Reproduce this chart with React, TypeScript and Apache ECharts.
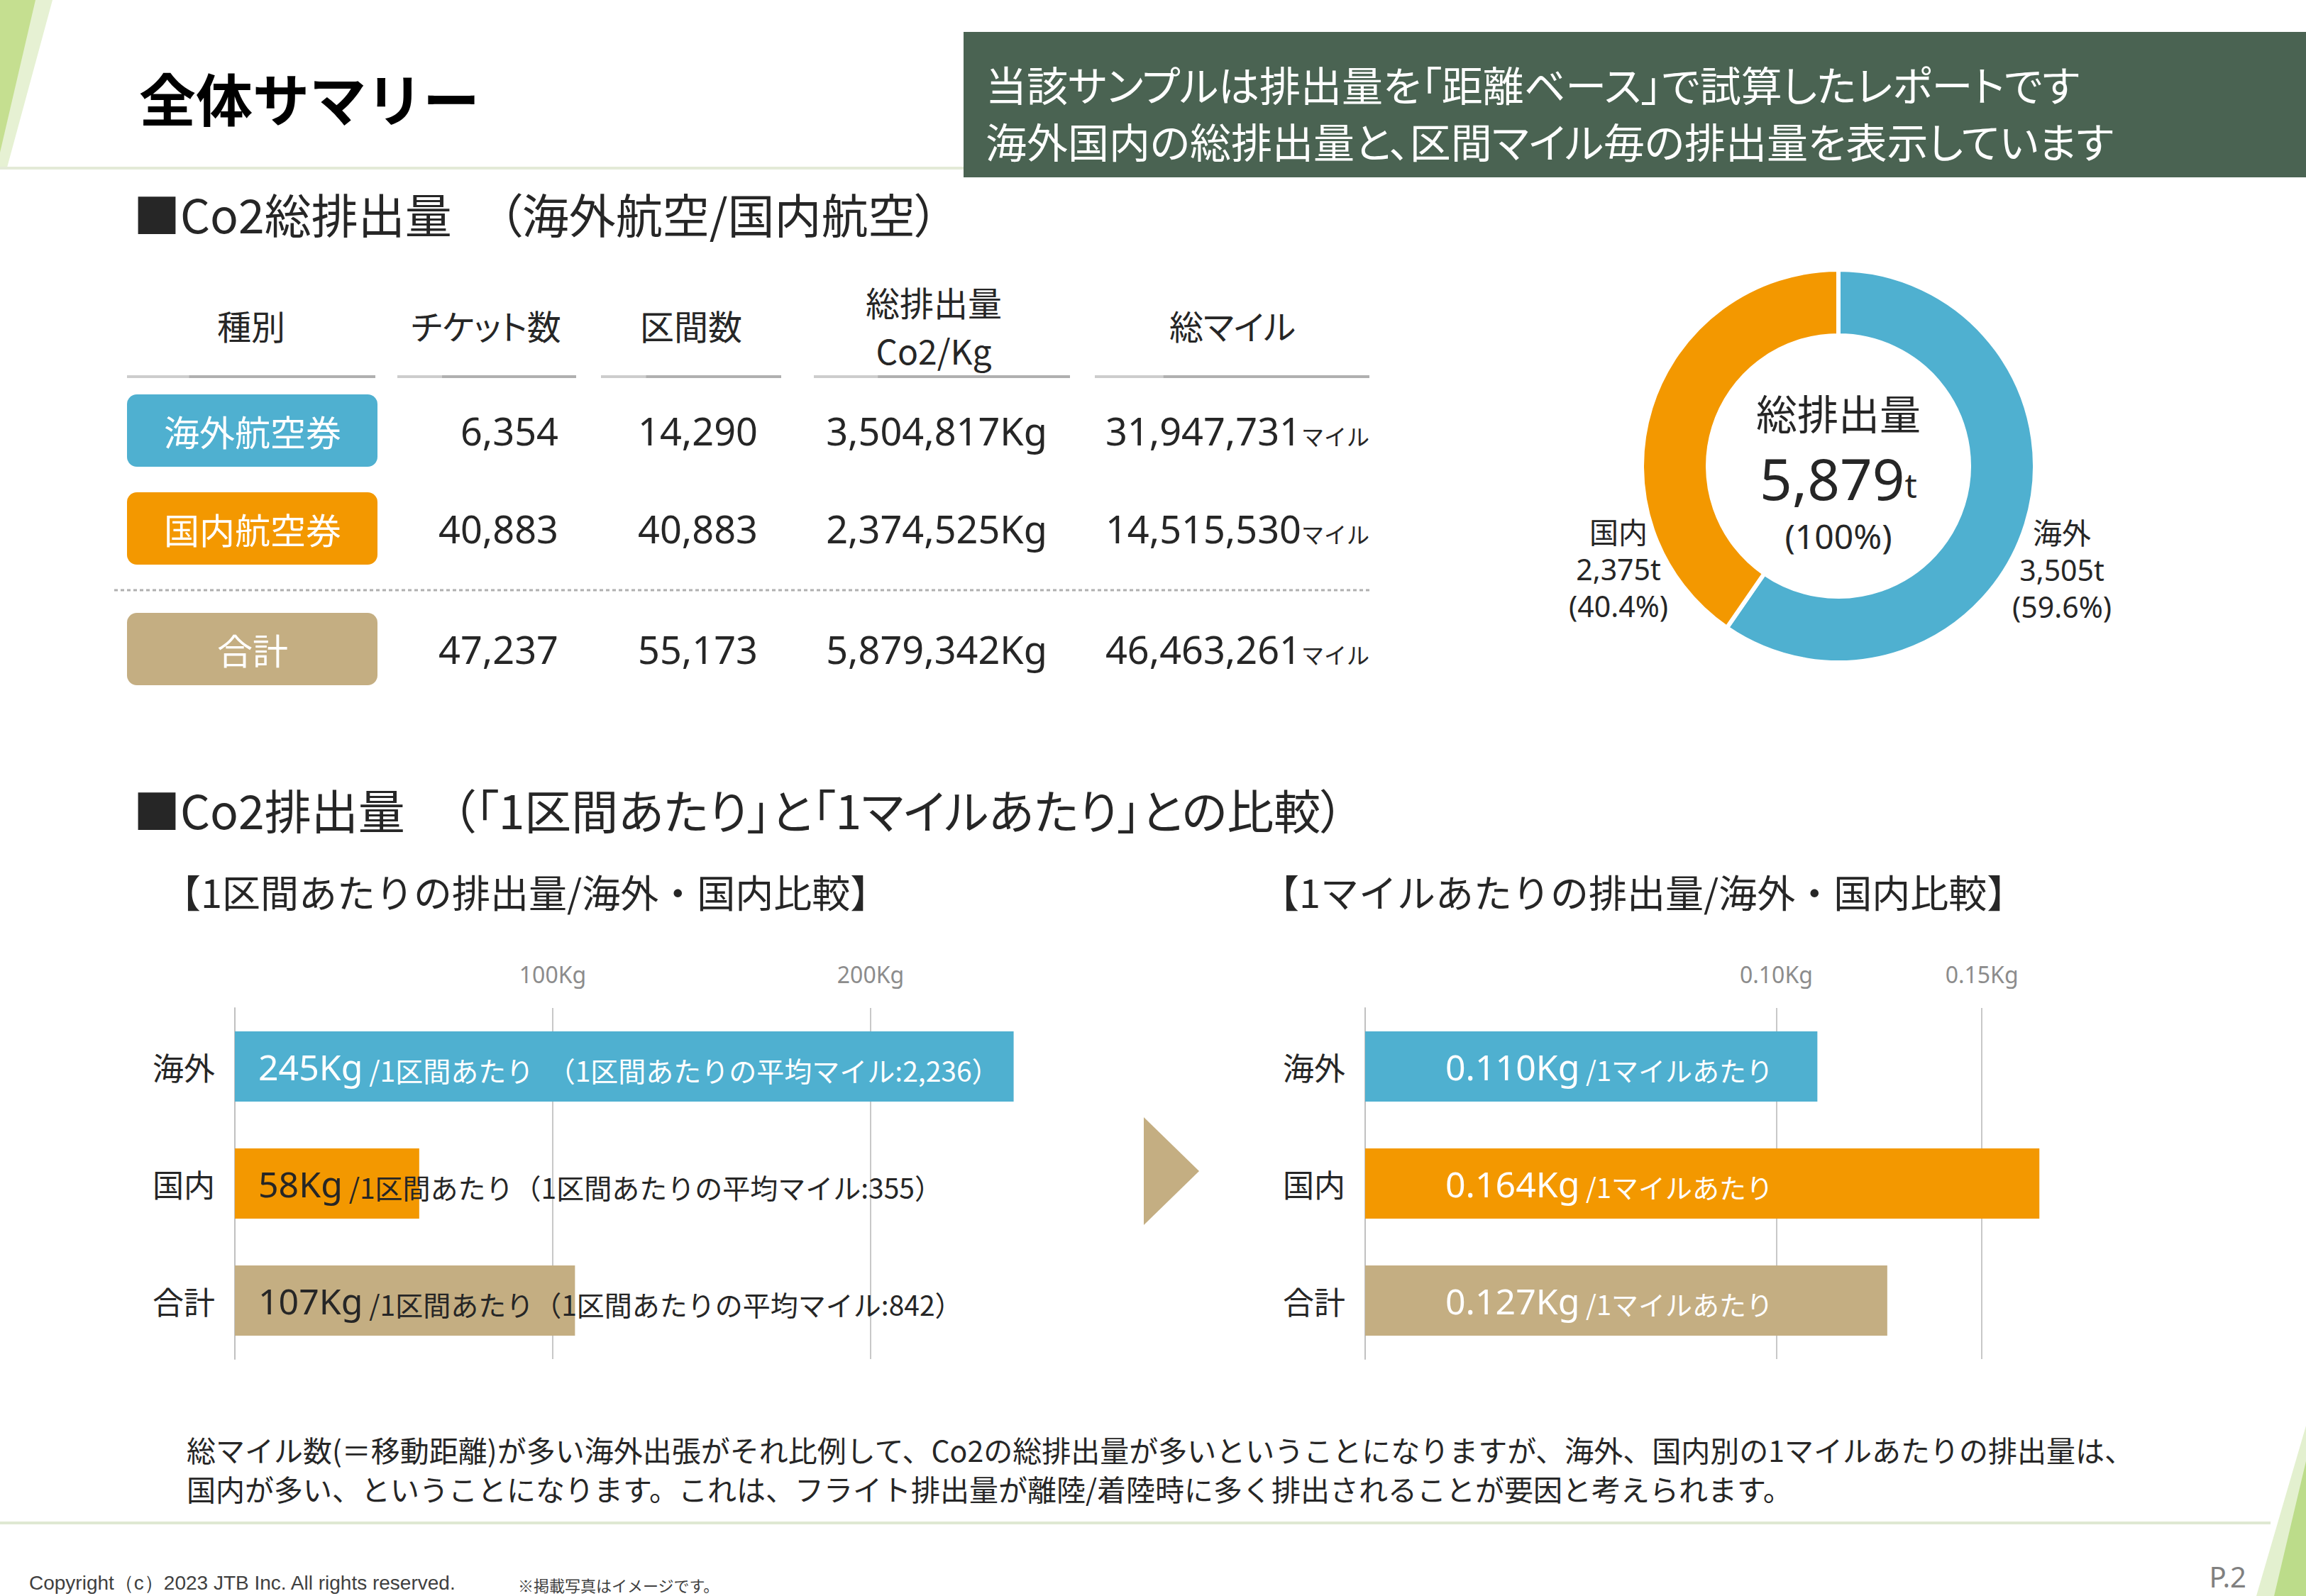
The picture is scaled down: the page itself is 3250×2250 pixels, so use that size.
import React, { useEffect, useRef } from 'react';
import * as echarts from 'echarts';

const W = 3250;
const H = 2250;

// ---------- data ----------
const ticketTypes = ['海外航空券', '国内航空券', '合計'];
const tableHeaders = ['種別', 'チケット数', '区間数', '総排出量\nCo2/Kg', '総マイル'];
const ticketCounts = [6354, 40883, 47237];
const segmentCounts = [14290, 40883, 55173];
const emissionsKg = [3504817, 2374525, 5879342];
const totalMiles = [31947731, 14515530, 46463261];

const donutNames = ['海外', '国内'];
const donutTonnes = [3505, 2375];
const donutTotalTonnes = 5879;

const barCategories = ['海外', '国内', '合計'];
const perSegmentKg = [245, 58, 107];
const avgMilesPerSegment = [2236, 355, 842];
const perMileKg = [0.110, 0.164, 0.127];
const segAxisTicks = [100, 200];
const mileAxisTicks = [0.1, 0.15];

const headerLines = [
  '当該サンプルは排出量を「距離ベース」で試算したレポートです',
  '海外国内の総排出量と、区間マイル毎の排出量を表示しています',
];
const noteLines = [
  '総マイル数(＝移動距離)が多い海外出張がそれ比例して、Co2の総排出量が多いということになりますが、海外、国内別の1マイルあたりの排出量は、',
  '国内が多い、ということになります。これは、フライト排出量が離陸/着陸時に多く排出されることが要因と考えられます。',
];

// ---------- style ----------
const COLORS = ['#4fb0d0', '#f39800', '#c4ae82'];
const DARK = '#262626';
const JP = "'Noto Sans CJK JP', sans-serif";
const NUM = "'Noto Sans', 'Noto Sans CJK JP', sans-serif";
const fmt = (n: number) => n.toLocaleString('en-US');

function txt(x: number, y: number, t: string, size: number, o: any = {}) {
  return {
    type: 'text',
    x,
    y,
    silent: true,
    z: 10,
    style: {
      text: t,
      fontSize: size,
      fontFamily: o.family || JP,
      fontWeight: o.weight || 'normal',
      fill: o.color || DARK,
      align: o.align || 'left',
      verticalAlign: o.valign || 'middle',
      lineHeight: o.lineHeight,
      rich: o.rich,
    },
  };
}

function buildGraphics() {
  const g: any[] = [];
  // decorative stripes
  g.push({ type: 'polygon', silent: true, shape: { points: [[0, 0], [74, 0], [10, 236], [0, 236]] }, style: { fill: '#e6f1d3' } });
  g.push({ type: 'polygon', silent: true, shape: { points: [[0, 0], [50, 0], [0, 215]] }, style: { fill: '#c5df90' } });
  g.push({ type: 'polygon', silent: true, shape: { points: [[3250, 2010], [3250, 2250], [3180, 2250]] }, style: { fill: '#e3f0cf' } });
  g.push({ type: 'polygon', silent: true, shape: { points: [[3250, 2060], [3250, 2250], [3205, 2250]] }, style: { fill: '#bcdc8a' } });
  // title + underline
  g.push({ type: 'line', silent: true, shape: { x1: 0, y1: 237, x2: 1358, y2: 237 }, style: { stroke: '#e3ead7', lineWidth: 4 } });
  g.push(txt(196, 136, '全体サマリー', 80, { weight: 'bold', color: '#000' }));
  // header box
  g.push({ type: 'rect', silent: true, shape: { x: 1358, y: 45, width: 1892, height: 205 }, style: { fill: '#4a6352' } });
  g.push(txt(1389, 158, headerLines.join('\n'), 58, { color: '#fff', lineHeight: 80 }));
  // section titles
  g.push(txt(188, 300, '■Co2総排出量　（海外航空/国内航空）', 66, { color: DARK }));
  g.push(txt(188, 1140, '■Co2排出量　（「1区間あたり」と「1マイルあたり」との比較）', 66, { color: DARK }));

  // table headers
  const headCx = [354, 685, 974, 1316, 1737];
  tableHeaders.forEach((h, i) => {
    g.push(txt(headCx[i], i === 3 ? 459 : 458, h, 48, { align: 'center', lineHeight: 68 }));
  });
  const under = [[179, 529], [560, 812], [847, 1101], [1147, 1508], [1543, 1930]];
  under.forEach(([a, b]) => {
    g.push({ type: 'line', silent: true, shape: { x1: a, y1: 531, x2: b, y2: 531 }, style: { stroke: '#b0b0b0', lineWidth: 4 } });
    g.push({ type: 'line', silent: true, shape: { x1: a, y1: 531, x2: a + (b - a) * 0.25, y2: 531 }, style: { stroke: '#cdcdcd', lineWidth: 4 } });
  });
  // rows
  const rowY = [607, 745, 915];
  const valRight = [787, 1068, 1476, 1930];
  ticketTypes.forEach((t, i) => {
    g.push({ type: 'rect', silent: true, shape: { x: 179, y: rowY[i] - 51, width: 353, height: 102, r: 14 }, style: { fill: COLORS[i] } });
    g.push(txt(356, rowY[i], t, 50, { align: 'center', color: '#fff' }));
    g.push(txt(valRight[0], rowY[i], fmt(ticketCounts[i]), 54, { align: 'right', family: NUM }));
    g.push(txt(valRight[1], rowY[i], fmt(segmentCounts[i]), 54, { align: 'right', family: NUM }));
    g.push(txt(valRight[2], rowY[i], fmt(emissionsKg[i]) + 'Kg', 54, { align: 'right', family: NUM }));
    g.push(txt(valRight[3], rowY[i], `{n|${fmt(totalMiles[i])}}{s|マイル}`, 54, {
      align: 'right',
      family: NUM,
      rich: {
        n: { fontSize: 54, fontFamily: NUM, fill: DARK, color: DARK },
        s: { fontSize: 32, fontFamily: JP, fill: DARK, color: DARK, padding: [14, 0, 0, 0] },
      },
    }));
  });
  g.push({ type: 'line', silent: true, shape: { x1: 161, y1: 832, x2: 1930, y2: 832 }, style: { stroke: '#b0b0b0', lineWidth: 3, lineDash: [5, 4] } });

  // donut centre
  g.push(txt(2591, 581, '総排出量', 58, { align: 'center' }));
  g.push(txt(2591, 673, `{a|${fmt(donutTotalTonnes)}}{b|t}`, 80, {
    align: 'center',
    family: NUM,
    rich: {
      a: { fontSize: 80, fontFamily: NUM, fill: DARK, color: DARK },
      b: { fontSize: 48, fontFamily: NUM, fill: DARK, color: DARK, padding: [20, 0, 0, 0] },
    },
  }));
  g.push(txt(2591, 755, '(100%)', 48, { align: 'center', family: NUM }));

  // sub titles
  g.push(txt(229, 1256, '【1区間あたりの排出量/海外・国内比較】', 54));
  g.push(txt(1777, 1256, '【1マイルあたりの排出量/海外・国内比較】', 54));
  // chevron
  g.push({ type: 'polygon', silent: true, shape: { points: [[1612, 1575], [1690, 1651], [1612, 1727]] }, style: { fill: COLORS[2] } });

  // notes
  g.push(txt(263, 2070, noteLines.join('\n'), 41, { lineHeight: 55 }));

  // footer
  g.push({ type: 'line', silent: true, shape: { x1: 0, y1: 2147, x2: 3200, y2: 2147 }, style: { stroke: '#dfe8d2', lineWidth: 4 } });
  g.push(txt(41, 2231, 'Copyright（c）2023 JTB Inc. All rights reserved.', 28, { family: "'Liberation Sans', Arial, sans-serif", color: '#404040' }));
  g.push(txt(730, 2234, '※掲載写真はイメージです。', 22, { color: '#404040' }));
  g.push(txt(3166, 2222, 'P.2', 40, { align: 'right', family: NUM, color: '#808080' }));
  return g;
}

function buildOption() {
  const donutSum = donutTonnes.reduce((a, b) => a + b, 0);
  const labelPos = [
    { x: 2906, y: 803 },
    { x: 2281, y: 802 },
  ];
  const axisLabelStyle = { fontSize: 32, color: '#8c8c8c', fontFamily: NUM, margin: 32 };
  const catAxis = (gridIndex: number) => ({
    type: 'category',
    gridIndex,
    inverse: true,
    data: barCategories,
    axisLine: { show: true, lineStyle: { color: '#c0c0c0', width: 2 } },
    axisTick: { show: false },
    axisLabel: { fontSize: 44, color: DARK, fontFamily: JP, margin: 28 },
  });
  const gridMarks = (xAxisIndex: number, yAxisIndex: number, ticks: number[]) => ({
    type: 'line',
    xAxisIndex,
    yAxisIndex,
    z: 1,
    data: [],
    silent: true,
    markLine: {
      z: 1,
      silent: true,
      symbol: ['none', 'none'],
      label: { show: false },
      lineStyle: { color: '#c8c8c8', width: 2, type: 'solid' },
      data: ticks.map((v) => ({ xAxis: v })),
    },
  });

  return {
    animation: false,
    backgroundColor: '#ffffff',
    textStyle: { fontFamily: JP },
    grid: [
      { left: 331, top: 1421, width: 1120, height: 495, outerBoundsMode: 'none' },
      { left: 1924, top: 1421, width: 985, height: 495, outerBoundsMode: 'none' },
    ],
    xAxis: [
      {
        type: 'value',
        gridIndex: 0,
        position: 'top',
        min: 0,
        max: 250,
        interval: 100,
        axisLine: { show: false },
        axisTick: { show: false },
        splitLine: { show: false },
        axisLabel: {
          ...axisLabelStyle,
          formatter: (v: number) => (segAxisTicks.some((t) => Math.abs(t - v) < 1e-9) ? `${v}Kg` : ''),
        },
      },
      {
        type: 'value',
        gridIndex: 1,
        position: 'top',
        min: 0,
        max: 0.17,
        interval: 0.05,
        axisLine: { show: false },
        axisTick: { show: false },
        splitLine: { show: false },
        axisLabel: {
          ...axisLabelStyle,
          formatter: (v: number) => (mileAxisTicks.some((t) => Math.abs(t - v) < 1e-9) ? `${v.toFixed(2)}Kg` : ''),
        },
      },
    ],
    yAxis: [catAxis(0), catAxis(1)],
    series: [
      gridMarks(0, 0, segAxisTicks),
      gridMarks(1, 1, mileAxisTicks),
      {
        type: 'bar',
        xAxisIndex: 0,
        yAxisIndex: 0,
        z: 2,
        barWidth: 99,
        silent: true,
        data: perSegmentKg.map((v, i) => ({ value: v, itemStyle: { color: COLORS[i] } })),
        label: {
          show: true,
          position: 'insideLeft',
          distance: 33,
          formatter: (p: any) => {
            const i = p.dataIndex;
            const k = i === 0 ? 'w' : 'd';
            const gap = i === 0 ? '　' : '';
            return `{v${k}|${perSegmentKg[i]}Kg}{u${k}| /1区間あたり${gap}（1区間あたりの平均マイル:${fmt(avgMilesPerSegment[i])}）}`;
          },
          rich: {
            vw: { fontSize: 50, fontFamily: NUM, color: '#fff' },
            uw: { fontSize: 39, fontFamily: JP, color: '#fff', padding: [8, 0, 0, 0] },
            vd: { fontSize: 50, fontFamily: NUM, color: DARK },
            ud: { fontSize: 39, fontFamily: JP, color: DARK, padding: [8, 0, 0, 0] },
          },
        },
      },
      {
        type: 'bar',
        xAxisIndex: 1,
        yAxisIndex: 1,
        z: 2,
        barWidth: 99,
        silent: true,
        data: perMileKg.map((v, i) => ({ value: v, itemStyle: { color: COLORS[i] } })),
        label: {
          show: true,
          position: 'insideLeft',
          distance: 113,
          formatter: (p: any) => `{v|${perMileKg[p.dataIndex].toFixed(3)}Kg}{u| /1マイルあたり}`,
          rich: {
            v: { fontSize: 50, fontFamily: NUM, color: '#fff' },
            u: { fontSize: 38, fontFamily: JP, color: '#fff', padding: [8, 0, 0, 0] },
          },
        },
      },
      {
        type: 'pie',
        center: [2591, 657],
        radius: [184, 277],
        startAngle: 90,
        clockwise: true,
        silent: true,
        avoidLabelOverlap: false,
        itemStyle: { borderColor: '#ffffff', borderWidth: 6 },
        data: donutNames.map((n, i) => ({ name: n, value: donutTonnes[i], itemStyle: { color: COLORS[i] } })),
        label: {
          show: true,
          position: 'outside',
          formatter: (p: any) => {
            const i = p.dataIndex;
            const pct = ((donutTonnes[i] / donutSum) * 100).toFixed(1);
            return `${donutNames[i]}\n${fmt(donutTonnes[i])}t\n(${pct}%)`;
          },
          fontSize: 41,
          lineHeight: 52,
          color: DARK,
          fontFamily: NUM,
          align: 'center',
        },
        labelLine: { show: false },
        labelLayout: (p: any) => ({
          x: labelPos[p.dataIndex].x,
          y: labelPos[p.dataIndex].y,
          align: 'center',
          verticalAlign: 'middle',
        }),
      },
    ],
    graphic: { elements: buildGraphics() },
  };
}

const css = `
svg text[style*="66px"], svg text[style*="58px"], svg text[style*="48px"],
svg text[font-size="66"], svg text[font-size="58"], svg text[font-size="48"] { font-feature-settings: "palt" 1; }
`;

export default function App() {
  const ref = useRef<HTMLDivElement>(null);
  useEffect(() => {
    const el = ref.current;
    if (!el) return;
    const chart = echarts.init(el, null, { renderer: 'svg', width: W, height: H });
    chart.setOption(buildOption() as any);
    return () => chart.dispose();
  }, []);
  return (
    <>
      <style>{css}</style>
      <div
        ref={ref}
        style={{ position: 'absolute', left: 0, top: 0, width: W, height: H, background: '#fff' }}
      />
    </>
  );
}
